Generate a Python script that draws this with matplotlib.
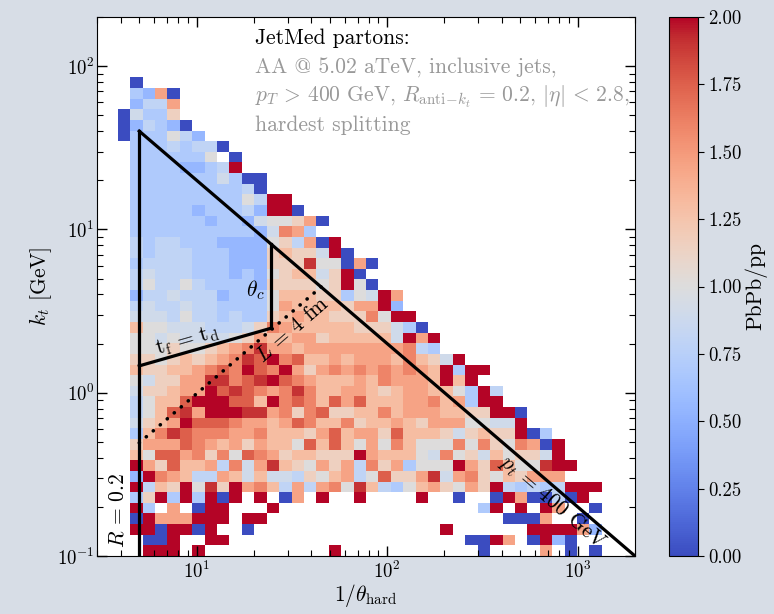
import numpy as np
import matplotlib
matplotlib.use('Agg')
import matplotlib.pyplot as plt
from matplotlib.ticker import FormatStrFormatter

plt.rcParams['font.family'] = ['cmr10', 'DejaVu Serif']
plt.rcParams['mathtext.fontset'] = 'cm'
plt.rcParams['axes.unicode_minus'] = False
plt.rcParams['axes.formatter.use_mathtext'] = True

# PbPb/pp ratio per cell.
# rows run from the top (highest k_t) down, columns from small to large 1/theta.
# '.' empty cell, '0'..'6' blue->grey, '7'..'c' peach->red, 'X' saturated red
levels = {'0': 0.0, '1': 0.35, '2': 0.55, '3': 0.7, '4': 0.8, '5': 0.9, '6': 1.0,
          '7': 1.15, '8': 1.3, '9': 1.45, 'a': 1.6, 'b': 1.75, 'c': 1.9, 'X': 2.0}

ratio_rows = [
    ".0",
    ".3290",
    ".2449",
    "05337",
    "024320",
    "0333642",
    ".33343440",
    ".3333336.0",
    ".33332234X",
    ".33333335300",
    ".33333333340",
    ".33333333364XX",
    ".33333233342XX0",
    ".3333332332566790",
    ".333333333325a93",
    ".4344333222267490X",
    ".4344433322278775X0",
    ".34444333222777c66090",
    ".45444333232678857X0",
    ".46446433332777767X60",
    ".24454442333688877365X9",
    ".45445443333698888799X2",
    ".5554644343378988777a6XX",
    ".86655544457a988888777530",
    ".6656555567988997888885X9X",
    ".666766789ac99899999999a43",
    ".77678789acbXab88989998a875X",
    ".877889abaXbaX979a9a9a9a98X3XX",
    ".657799ccabcXba988898a9998X8X",
    ".577899Xbcba9aca8899878998863X4",
    ".4688bXXXbb8Xaba8b9b88899a893XX",
    ".468bc9XXXcc9a7ab7788a89998877XX0",
    ".5789Xbbba9989ba88a7889879996655X",
    ".38acbaaa99a88879b8997b888757877X03",
    ".7999ba98979886b8b8696a8666a6a76a90X",
    ".86bb9a7a6ba9788777X988865a67586775X",
    ".X97b8894a59c8769794a793666X97b866cXX",
    ".2Xa98449858554768946b779c59a7687999",
    ".X487X6c7X9a84949a6c8436897697X43434XXX",
    ".37X3X3X0X.X.09.X..X....X..0..0X90040X.",
    ".X3.9.0XX...X................3X.X.X9..0",
    ".0X999XXX.XX...................0009..0",
    ".XX0XX0X..0...............X......XXXX920",
    "..00X..XX...................00X9.0X20.",
    "..XXX.X..........X...........0....9.0.00",
]

n_cols = 39
# bins are equal steps of 0.15 in ln(1/theta) and ln(k_t)
x_edges = np.exp(0.15 * np.arange(9, 9 + n_cols + 1))
y_edges = 0.1 * np.exp(0.15 * np.arange(len(ratio_rows) + 1))

pt_half = 200.0          # k_t = (p_T / 2) * theta on the p_t = 400 GeV line
inv_R = 5.0              # 1/R for R = 0.2
inv_theta_c = 24.6
tf_td_coef = 0.854       # k_t = c * (1/theta)^(1/3)
L_coef = 0.1973 * 2 / 4  # k_t = 2 / (L theta), L = 4 fm

Z = np.full((len(ratio_rows), n_cols), np.nan)
for i, row in enumerate(ratio_rows):
    for j, ch in enumerate(row[:n_cols]):
        if ch in levels:
            Z[i, j] = levels[ch]
Z = Z[::-1]

fig = plt.figure(figsize=(7.74, 6.14), dpi=100, facecolor='#d7dde6')
ax = fig.add_axes([97 / 774, 58 / 614, 538 / 774, 539 / 614])
cax = fig.add_axes([669 / 774, 58 / 614, 29 / 774, 539 / 614])

mesh = ax.pcolormesh(x_edges, y_edges, np.ma.masked_invalid(Z), cmap='coolwarm', vmin=0, vmax=2)
ax.set_xscale('log')
ax.set_yscale('log')
ax.set_xlim(3, 2000)
ax.set_ylim(0.1, 200)

lw = 2.3
ax.plot([inv_R, inv_R], [0.1, pt_half / inv_R], color='k', lw=lw)
xd = np.array([inv_R, 2000])
ax.plot(xd, pt_half / xd, color='k', lw=lw)
xt = np.array([inv_R, inv_theta_c])
ax.plot(xt, tf_td_coef * xt ** (1 / 3), color='k', lw=lw)
ax.plot([inv_theta_c, inv_theta_c], [tf_td_coef * inv_theta_c ** (1 / 3), pt_half / inv_theta_c],
        color='k', lw=lw)
x_end = np.sqrt(pt_half / L_coef)
xl = np.array([inv_R, x_end])
ax.plot(xl, L_coef * xl, color='k', lw=2.6, linestyle=(0, (0.05, 2.5)), dash_capstyle='round')

fs = 15.5
ax.text(3.87, 0.19, r'$R\,=\,0.2$', rotation=90, ha='center', va='center', fontsize=fs)
ax.text(8.9, 2.1, r'$\mathrm{t_f}\,=\,\mathrm{t_d}$', rotation=16, ha='center', va='center', fontsize=fs)
ax.text(20.3, 4.26, r'$\theta_c$', ha='center', va='center', fontsize=fs)
ax.text(32, 2.42, r'$L\,=\,4$ fm', rotation=41, ha='center', va='center', fontsize=fs)
ax.text(743, 0.214, r'$p_t\,=\,400$ GeV', rotation=-40.6, ha='center', va='center', fontsize=fs)

tx = (255 - 97) / 538
ax.text(tx, 0.961, 'JetMed partons:', transform=ax.transAxes, va='center', fontsize=fs)
ax.text(tx, 0.905, 'AA @ 5.02 aTeV, inclusive jets,', transform=ax.transAxes, va='center',
        fontsize=fs, color='0.6')
ax.text(tx, 0.852, r'$p_T\,>\,400$ GeV, $R_{\mathrm{anti}\!-\!k_t}\,=\,0.2$, $|\eta|\,<\,2.8$,',
        transform=ax.transAxes, va='center', fontsize=fs, color='0.6')
ax.text(tx, 0.800, 'hardest splitting', transform=ax.transAxes, va='center', fontsize=fs, color='0.6')

ax.set_xlabel(r'$1/\theta_{\mathrm{hard}}$', fontsize=fs, labelpad=0)
ax.set_ylabel(r'$k_t$ [GeV]', fontsize=fs, labelpad=2)
ax.tick_params(which='both', direction='in', top=True, right=True, labelsize=13.5)
ax.tick_params(axis='y', pad=2)
ax.tick_params(which='major', length=7, width=1)
ax.tick_params(which='minor', length=4, width=0.8)
ax.set_facecolor('white')

cb = fig.colorbar(mesh, cax=cax)
cb.set_ticks(np.arange(0, 2.01, 0.25))
cb.ax.yaxis.set_major_formatter(FormatStrFormatter('%.2f'))
cb.ax.tick_params(labelsize=13.5, length=4)
cb.set_label('PbPb/pp', fontsize=fs, labelpad=2)

fig.savefig('out.png', dpi=100, facecolor=fig.get_facecolor())
